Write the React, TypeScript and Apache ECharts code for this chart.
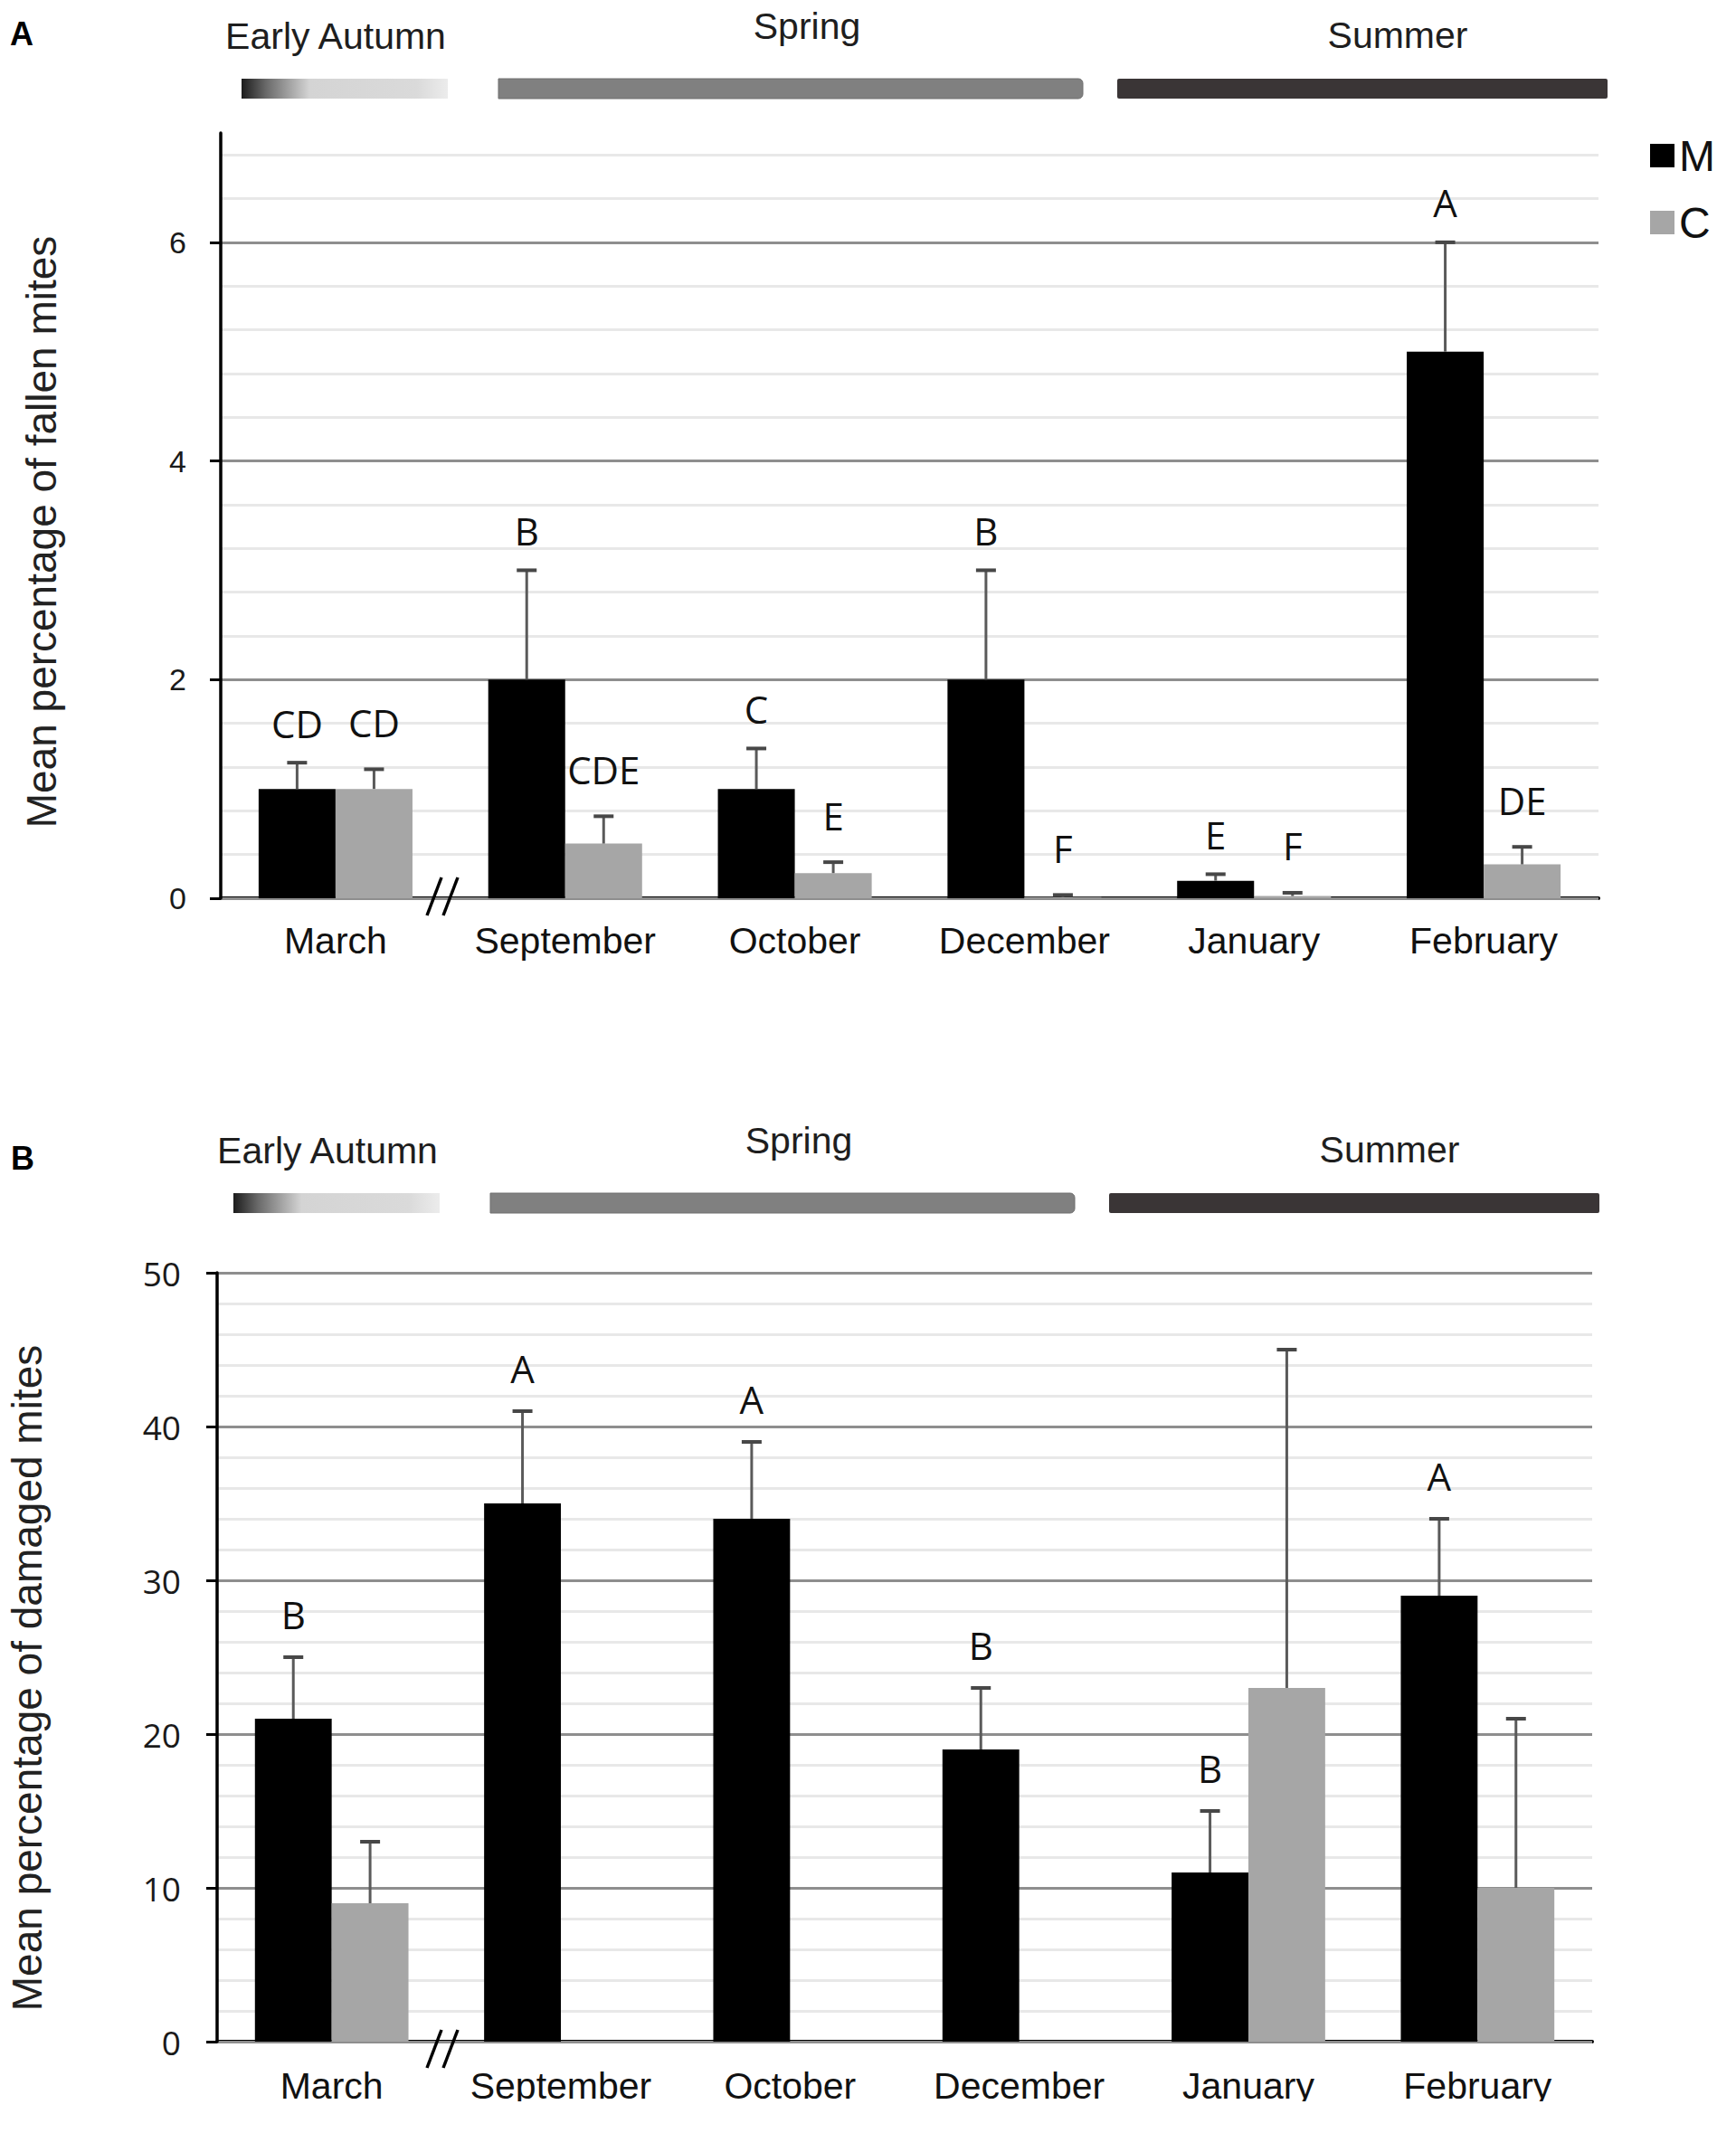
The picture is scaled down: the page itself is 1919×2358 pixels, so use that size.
import React, { useEffect, useRef } from "react";
import * as echarts from "echarts";

// ---------- data ----------
const CATEGORIES = ["March", "September", "October", "December", "January", "February"];

// Panel A: mean percentage of fallen mites
const FALLEN_M = [1.0, 2.0, 1.0, 2.0, 0.16, 5.0];
const FALLEN_M_ERR = [1.24, 3.0, 1.37, 3.0, 0.22, 6.0];
const FALLEN_C = [1.0, 0.5, 0.23, 0.01, 0.02, 0.31];
const FALLEN_C_ERR = [1.18, 0.75, 0.33, 0.03, 0.05, 0.47];
const FALLEN_M_LETTERS = ["CD", "B", "C", "B", "E", "A"];
const FALLEN_C_LETTERS = ["CD", "CDE", "E", "F", "F", "DE"];
const FALLEN_TICKS = [0, 2, 4, 6];
const FALLEN_MAX = 7;
const FALLEN_MINOR_STEP = 0.4;

// Panel B: mean percentage of damaged mites
const DAMAGED_M = [21, 35, 34, 19, 11, 29];
const DAMAGED_M_ERR = [25, 41, 39, 23, 15, 34];
const DAMAGED_C = [9, 0, 0, 0, 23, 10];
const DAMAGED_C_ERR: (number | null)[] = [13, null, null, null, 45, 21];
const DAMAGED_M_LETTERS = ["B", "A", "A", "B", "B", "A"];
const DAMAGED_C_LETTERS = ["", "", "", "", "", ""];
const DAMAGED_TICKS = [0, 10, 20, 30, 40, 50];
const DAMAGED_MAX = 50;
const DAMAGED_MINOR_STEP = 2;

const SEASONS = ["Early Autumn", "Spring", "Summer"];
const SERIES_NAMES = ["M", "C"];
const TITLE_A = "Mean percentage of fallen mites";
const TITLE_B = "Mean percentage of damaged mites";

// ---------- styles ----------
const W = 1919;
const H = 2358;
const BAR_FRACTION = 0.335;
const COLOR_M = "#000000";
const COLOR_C = "#a6a6a6";
const MAJOR_GRID = "#8e8e8e";
const MINOR_GRID = "#e8e8e8";
const ARIAL = '"Liberation Sans", Arial, sans-serif';
const CAL = '"Open Sans", "Noto Sans", sans-serif';

function errRender(
  vals: number[],
  errs: (number | null)[],
  letters: string[],
  sign: number,
  offset: number
) {
  return (params: any, api: any) => {
    const i = params.dataIndex;
    const band = api.size([1, 0])[0];
    const dx = (sign * band * BAR_FRACTION) / 2;
    const base = api.coord([i, vals[i]]);
    const cx = base[0] + dx;
    let topY = base[1];
    const children: any[] = [];
    const e = errs[i];
    if (e != null) {
      const top = api.coord([i, e]);
      topY = top[1];
      children.push({
        type: "line",
        shape: { x1: cx, y1: base[1], x2: cx, y2: topY },
        style: { stroke: "#5a5a5a", lineWidth: 3 },
      });
      children.push({
        type: "line",
        shape: { x1: cx - 11, y1: topY, x2: cx + 11, y2: topY },
        style: { stroke: "#474747", lineWidth: 4 },
      });
    }
    if (letters[i]) {
      children.push({
        type: "text",
        x: cx,
        y: topY - offset,
        style: {
          text: letters[i],
          fill: "#111111",
          fontSize: 42,
          fontFamily: CAL,
          align: "center",
          verticalAlign: "middle",
          textAlign: "center",
          textVerticalAlign: "middle",
        },
      });
    }
    return { type: "group", children };
  };
}

function minorColors() {
  return ["rgba(0,0,0,0)", MINOR_GRID, MINOR_GRID, MINOR_GRID, MINOR_GRID];
}

function seasonHeader(dx: number, dy: number) {
  const txt = (text: string, x: number, y: number) => ({
    type: "text",
    x: x + dx,
    y: y + dy,
    style: {
      text,
      fill: "#1e1e1e",
      fontSize: 41,
      fontFamily: ARIAL,
      textAlign: "center",
      textVerticalAlign: "middle",
      align: "center",
      verticalAlign: "middle",
    },
  });
  return [
    txt(SEASONS[0], 371, 40),
    txt(SEASONS[1], 892, 29),
    txt(SEASONS[2], 1545, 39),
    {
      type: "rect",
      shape: { x: 267 + dx, y: 87 + dy, width: 228, height: 22 },
      style: {
        fill: new echarts.graphic.LinearGradient(0, 0, 1, 0, [
          { offset: 0, color: "#1c1c1c" },
          { offset: 0.12, color: "#6a6a6a" },
          { offset: 0.33, color: "#d4d4d4" },
          { offset: 0.85, color: "#dadada" },
          { offset: 1, color: "#ececec" },
        ]),
      },
    },
    {
      type: "rect",
      shape: { x: 551 + dx, y: 87 + dy, width: 646, height: 22, r: [0, 5, 5, 0] },
      style: { fill: "#808080", stroke: "#6f6f6f", lineWidth: 1 },
    },
    {
      type: "rect",
      shape: { x: 1235 + dx, y: 87 + dy, width: 542, height: 22, r: 2 },
      style: { fill: "#3a3536" },
    },
  ];
}

function breakMark(y: number) {
  return [
    {
      type: "line",
      shape: { x1: 472, y1: y + 21, x2: 488, y2: y - 21 },
      style: { stroke: "#000", lineWidth: 3.5 },
      z: 50,
    },
    {
      type: "line",
      shape: { x1: 490, y1: y + 21, x2: 506, y2: y - 21 },
      style: { stroke: "#000", lineWidth: 3.5 },
      z: 50,
    },
  ];
}

function yTitle(text: string, x: number, y: number) {
  return {
    type: "text",
    x,
    y,
    rotation: Math.PI / 2,
    style: {
      text,
      fill: "#222222",
      fontSize: 46,
      fontFamily: ARIAL,
      textAlign: "center",
      textVerticalAlign: "middle",
      align: "center",
      verticalAlign: "middle",
    },
  };
}

function panelLetter(text: string, x: number, y: number) {
  return {
    type: "text",
    x,
    y,
    style: {
      text,
      fill: "#000",
      fontSize: 36,
      fontWeight: "bold",
      fontFamily: ARIAL,
      textAlign: "left",
      textVerticalAlign: "middle",
      align: "left",
      verticalAlign: "middle",
    },
  };
}

function buildOption() {
  const xAxisBase = (gridIndex: number, margin: number) => ({
    type: "category",
    gridIndex,
    data: CATEGORIES,
    axisLine: { show: true, lineStyle: { color: "#000", width: 4 } },
    axisTick: { show: false },
    axisLabel: {
      color: "#111",
      fontSize: 41,
      fontFamily: ARIAL,
      margin,
      interval: 0,
      hideOverlap: false,
    },
    splitLine: { show: false },
  });

  const majorY = (
    gridIndex: number,
    max: number,
    ticks: number[],
    fontSize: number,
    fontFamily: string,
    margin: number
  ) => ({
    type: "value",
    gridIndex,
    position: "left",
    min: 0,
    max,
    interval: ticks[1] - ticks[0],
    axisLine: { show: true, lineStyle: { color: "#000", width: 3.5 } },
    axisTick: {
      show: true,
      length: 12,
      customValues: ticks,
      lineStyle: { color: "#000", width: 3 },
    },
    axisLabel: {
      color: "#1a1a1a",
      fontSize,
      fontFamily,
      margin,
      customValues: ticks,
    },
    splitLine: { show: true, lineStyle: { color: MAJOR_GRID, width: 3 } },
    z: 3,
  });

  const minorY = (gridIndex: number, max: number, step: number) => ({
    type: "value",
    gridIndex,
    position: "left",
    offset: 0,
    min: 0,
    max,
    interval: step,
    axisLine: { show: false },
    axisTick: { show: false },
    axisLabel: { show: false },
    splitLine: {
      show: true,
      showMaxLine: false,
      lineStyle: { color: minorColors(), width: 3 },
    },
    z: 1,
  });

  const bar = (name: string, data: number[], xi: number, yi: number, color: string) => ({
    type: "bar",
    name,
    xAxisIndex: xi,
    yAxisIndex: yi,
    data,
    barWidth: (BAR_FRACTION * 100).toFixed(1) + "%",
    barGap: "0%",
    itemStyle: { color },
    z: 4,
  });

  const err = (
    name: string,
    vals: number[],
    errs: (number | null)[],
    letters: string[],
    sign: number,
    xi: number,
    yi: number,
    offset: number
  ) => ({
    type: "custom",
    name,
    xAxisIndex: xi,
    yAxisIndex: yi,
    data: CATEGORIES.map((_, i) => [i, errs[i] ?? vals[i]]),
    encode: { x: 0, y: 1 },
    renderItem: errRender(vals, errs, letters, sign, offset),
    z: 6,
    silent: true,
  });

  return {
    animation: false,
    backgroundColor: "#ffffff",
    legend: {
      data: SERIES_NAMES,
      orient: "vertical",
      left: 1819,
      top: 143,
      itemWidth: 27,
      itemHeight: 26,
      itemGap: 26,
      icon: "rect",
      selectedMode: false,
      textStyle: { fontSize: 48, fontFamily: ARIAL, color: "#111", lineHeight: 48 },
    },
    grid: [
      { left: 244, top: 147, width: 1523, height: 846, containLabel: false },
      { left: 240, top: 1407, width: 1520, height: 850, containLabel: false },
    ],
    xAxis: [xAxisBase(0, 26), xAxisBase(1, 28)],
    yAxis: [
      majorY(0, FALLEN_MAX, FALLEN_TICKS, 34, ARIAL, 38),
      minorY(0, FALLEN_MAX, FALLEN_MINOR_STEP),
      majorY(1, DAMAGED_MAX, DAMAGED_TICKS, 37, CAL, 40),
      minorY(1, DAMAGED_MAX, DAMAGED_MINOR_STEP),
    ],
    series: [
      bar(SERIES_NAMES[0], FALLEN_M, 0, 0, COLOR_M),
      bar(SERIES_NAMES[1], FALLEN_C, 0, 0, COLOR_C),
      err("errAM", FALLEN_M, FALLEN_M_ERR, FALLEN_M_LETTERS, -1, 0, 0, 44),
      err("errAC", FALLEN_C, FALLEN_C_ERR, FALLEN_C_LETTERS, 1, 0, 0, 52),
      bar(SERIES_NAMES[0], DAMAGED_M, 1, 2, COLOR_M),
      bar(SERIES_NAMES[1], DAMAGED_C, 1, 2, COLOR_C),
      err("errBM", DAMAGED_M, DAMAGED_M_ERR, DAMAGED_M_LETTERS, -1, 1, 2, 48),
      err("errBC", DAMAGED_C, DAMAGED_C_ERR, DAMAGED_C_LETTERS, 1, 1, 2, 48),
    ],
    graphic: [
      panelLetter("A", 11, 37),
      panelLetter("B", 12, 1280),
      ...seasonHeader(0, 0),
      ...seasonHeader(-9, 1232),
      yTitle(TITLE_A, 46, 588),
      yTitle(TITLE_B, 30, 1855),
      ...breakMark(991),
      ...breakMark(2265),
      {
        type: "rect",
        shape: { x: 0, y: 2323, width: W, height: H - 2323 },
        style: { fill: "#ffffff" },
        z: 100,
      },
    ],
  };
}

export default function App() {
  const ref = useRef<HTMLDivElement | null>(null);
  useEffect(() => {
    document.body.style.margin = "0";
    if (!ref.current) return;
    const chart = echarts.init(ref.current, undefined, { renderer: "svg" });
    chart.setOption(buildOption() as any);
    return () => chart.dispose();
  }, []);
  return <div ref={ref} style={{ width: W, height: H, background: "#fff" }} />;
}
